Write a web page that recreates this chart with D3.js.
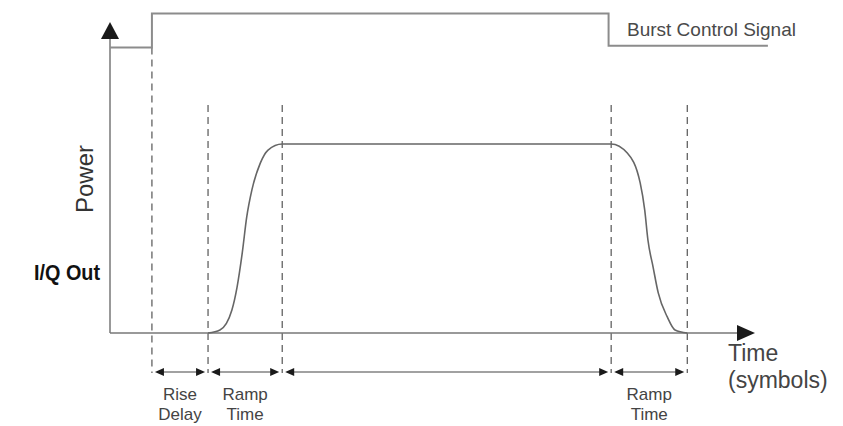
<!DOCTYPE html>
<html lang="en">
<head>
<meta charset="utf-8">
<title>Burst Power Ramp</title>
<script src="https://cdnjs.cloudflare.com/ajax/libs/d3/7.8.5/d3.min.js"></script>
<style>
body { margin: 0; background: #fff; }
svg { font-family: "Liberation Sans", Arial, sans-serif; }
.axis-line { stroke: #777; stroke-width: 1.5; fill: none; }
.burst { stroke: #8c8c8c; stroke-width: 2; fill: none; }
.power { stroke: #666; stroke-width: 1.6; fill: none; }
.marker { stroke: #555; stroke-width: 1.2; stroke-dasharray: 7,5; }
.span { stroke: #444; stroke-width: 1.2; }
.head { fill: #1a1a1a; }
.lbl { fill: #444; font-size: 17px; text-anchor: middle; }
</style>
</head>
<body>
<div id="chart"></div>
<script>

const w = 843;
const h = 426;

// burst control signal (step), time in symbols / level
const burstTimes = [0, 6.5, 6.5, 77.3, 77.3, 102];
const burstLevels = [1.51, 1.51, 1.69, 1.69, 1.52, 1.52];

// I/Q output power envelope
const powerTimes = [15.2, 17.05, 18.9, 19.7, 20.5, 21.2, 22.0, 23.3, 24.5, 26.7,
                    77.7, 80.2, 82.2, 82.9, 83.4, 84.2, 85.0, 86.4, 87.6, 89.5];
const powerLevels = [0, 0.016, 0.122, 0.243, 0.423, 0.614, 0.757, 0.899, 0.968, 1,
                     1, 0.952, 0.794, 0.651, 0.492, 0.349, 0.212, 0.085, 0.016, 0];

// dashed time markers
const markerTimes = [6.5, 15.2, 26.7, 77.7, 89.5];

// interval arrows under the axis
const spanFrom = [6.5, 15.2, 26.7, 77.7];
const spanTo = [15.2, 26.7, 77.7, 89.5];
const spanLabels = [["Rise", "Delay"], ["Ramp", "Time"], [], ["Ramp", "Time"]];

const x = d3.scaleLinear().domain([0, 100]).range([110, 755]);
const y = d3.scaleLinear().domain([0, 1]).range([333, 144]);

const svg = d3.select("#chart")
   .append("svg")
   .attr("width", w)
   .attr("height", h);

const markerTop = 105;
const markerBottom = 373;
const spanY = 372;

// dashed markers (first one hangs from the burst low level)
svg.selectAll(".marker")
   .data(markerTimes)
   .enter()
   .append("line")
   .attr("class", "marker")
   .attr("x1", d => x(d))
   .attr("x2", d => x(d))
   .attr("y1", (d, i) => i === 0 ? y(burstLevels[0]) : markerTop)
   .attr("y2", markerBottom);

// axes
svg.append("line")
   .attr("class", "axis-line")
   .attr("x1", x(0)).attr("x2", x(100) - 4)
   .attr("y1", y(0)).attr("y2", y(0));
svg.append("line")
   .attr("class", "axis-line")
   .attr("x1", x(0)).attr("x2", x(0))
   .attr("y1", y(0)).attr("y2", y(1.62));

// axis arrowheads
svg.append("path")
   .attr("class", "head")
   .attr("d", `M${x(100)},${y(0)} L${x(100) - 18},${y(0) - 8} L${x(100) - 18},${y(0) + 8} Z`);
svg.append("path")
   .attr("class", "head")
   .attr("d", `M${x(0)},${y(1.646)} L${x(0) - 9},${y(1.646) + 17} L${x(0) + 9},${y(1.646) + 17} Z`);

// burst control signal
const burst = burstTimes.map((t, i) => [t, burstLevels[i]]);
svg.append("path")
   .datum(burst)
   .attr("class", "burst")
   .attr("d", d3.line().x(d => x(d[0])).y(d => y(d[1])));

// power envelope
const power = powerTimes.map((t, i) => [t, powerLevels[i]]);
svg.append("path")
   .datum(power)
   .attr("class", "power")
   .attr("d", d3.line().x(d => x(d[0])).y(d => y(d[1])).curve(d3.curveMonotoneX));

// interval arrows
spanFrom.forEach((f, i) => {
   const x1 = x(f) + 3, x2 = x(spanTo[i]) - 3;
   svg.append("line")
      .attr("class", "span")
      .attr("x1", x1 + 4).attr("x2", x2 - 4)
      .attr("y1", spanY).attr("y2", spanY);
   svg.append("path")
      .attr("class", "head")
      .attr("d", `M${x1},${spanY} L${x1 + 9},${spanY - 4} L${x1 + 9},${spanY + 4} Z`);
   svg.append("path")
      .attr("class", "head")
      .attr("d", `M${x2},${spanY} L${x2 - 9},${spanY - 4} L${x2 - 9},${spanY + 4} Z`);
   const mid = (x(f) + x(spanTo[i])) / 2;
   spanLabels[i].forEach((s, j) => {
      svg.append("text")
         .attr("class", "lbl")
         .attr("x", mid)
         .attr("y", 400 + j * 20)
         .text(s);
   });
});

// labels
svg.append("text")
   .attr("x", 627)
   .attr("y", 35.5)
   .style("font-size", "19px")
   .style("fill", "#4a4a4a")
   .text("Burst Control Signal");

svg.append("text")
   .attr("transform", "translate(93,179) rotate(-90)")
   .attr("text-anchor", "middle")
   .style("font-size", "24px")
   .style("fill", "#333")
   .text("Power");

svg.append("text")
   .attr("x", 100)
   .attr("y", 280)
   .attr("text-anchor", "end")
   .attr("textLength", 66)
   .attr("lengthAdjust", "spacingAndGlyphs")
   .style("font-size", "22px")
   .style("font-weight", "bold")
   .style("fill", "#111")
   .text("I/Q Out");

svg.append("text")
   .attr("x", 728)
   .attr("y", 361)
   .style("font-size", "23px")
   .style("fill", "#444")
   .text("Time");
svg.append("text")
   .attr("x", 728)
   .attr("y", 388)
   .style("font-size", "23px")
   .style("fill", "#444")
   .text("(symbols)");

</script>
</body>
</html>
